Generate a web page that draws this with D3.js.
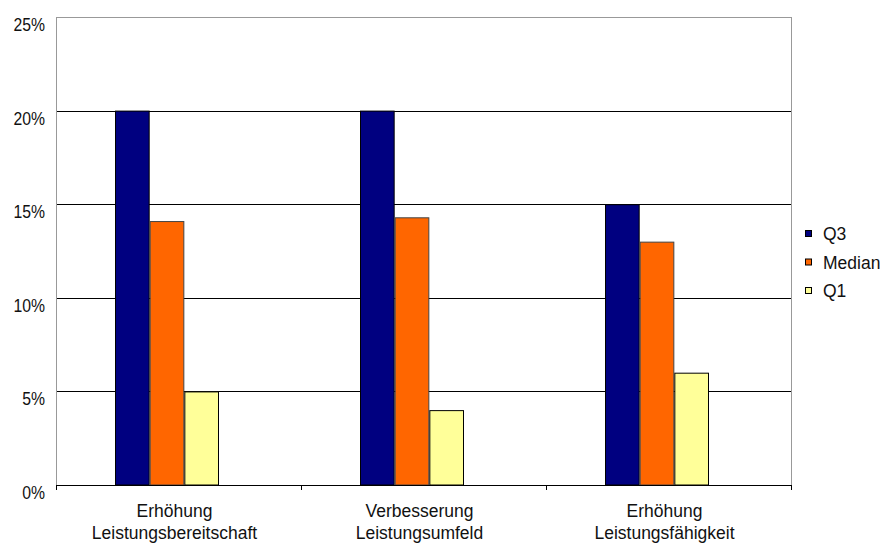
<!DOCTYPE html>
<html><head><meta charset="utf-8">
<script src="https://cdn.jsdelivr.net/npm/d3@7"></script>
<style>body{margin:0;background:#fff}text{font-family:"Liberation Sans",Arial,sans-serif}</style>
</head><body><svg id="c" width="896" height="549"></svg>
<script>
const categories = [["Erhöhung","Leistungsbereitschaft"],["Verbesserung","Leistungsumfeld"],["Erhöhung","Leistungsfähigkeit"]];
const seriesNames = ["Q3","Median","Q1"];
const q3 = [0.20, 0.20, 0.15];
const median = [0.141, 0.143, 0.130];
const q1 = [0.05, 0.04, 0.06];
const yTicks = [0, 0.05, 0.10, 0.15, 0.20, 0.25];
const colors = ["#000080","#FF6600","#FFFF99"];
const seriesData = [q3, median, q1];

const svg = d3.select("#c");
const L=56, R=791, T=17, B=485;
const y = d3.scaleLinear().domain([0,0.25]).range([B,T]);
const x0 = d3.scaleBand().domain(d3.range(categories.length)).range([L,R]).padding(0);
const x1 = d3.scaleBand().domain(d3.range(seriesNames.length)).range([59,163]).padding(0);

// gridlines
svg.append("g").selectAll("line").data(yTicks.filter(t=>t>0 && t<0.25)).join("line")
  .attr("x1",L).attr("x2",R).attr("y1",d=>Math.round(y(d))+0.5).attr("y2",d=>Math.round(y(d))+0.5)
  .attr("stroke","#000").attr("stroke-width",1);
// frame
svg.append("line").attr("x1",L).attr("x2",R).attr("y1",T+0.5).attr("y2",T+0.5).attr("stroke","#999");
svg.append("line").attr("x1",L+0.5).attr("x2",L+0.5).attr("y1",T).attr("y2",B).attr("stroke","#999");
svg.append("line").attr("x1",R+0.5).attr("x2",R+0.5).attr("y1",T).attr("y2",B).attr("stroke","#999");

// bars
seriesData.forEach((vals,si)=>{
  svg.append("g").selectAll("rect").data(vals).join("rect")
    .attr("x",(d,i)=>x0(i)+x1(si)+0.5)
    .attr("y",d=>y(d)+0.5)
    .attr("width",x1.bandwidth()-1)
    .attr("height",d=>B-y(d)-0.5)
    .attr("fill",colors[si])
    .attr("stroke",si===1?"#444":"#000").attr("stroke-width",1);
});

// x axis
svg.append("line").attr("x1",L).attr("x2",R+1).attr("y1",B+0.5).attr("y2",B+0.5).attr("stroke","#000");
svg.append("g").selectAll("line").data(d3.range(categories.length)).join("line")
  .attr("x1",i=>x0(i)+x0.bandwidth()+0.5).attr("x2",i=>x0(i)+x0.bandwidth()+0.5)
  .attr("y1",B).attr("y2",B+5).attr("stroke","#000");
svg.append("line").attr("x1",L+0.5).attr("x2",L+0.5).attr("y1",B).attr("y2",B+5).attr("stroke","#000");

// category labels
const cl = svg.append("g").selectAll("text").data(categories).join("text")
  .attr("text-anchor","middle").attr("font-size",17.5).attr("fill","#111");
cl.each(function(d,i){
  const t=d3.select(this); const cx=x0(i)+x0.bandwidth()/2-4;
  d.forEach((s,k)=>t.append("tspan").attr("x",cx).attr("y",517+k*22).text(s));
});

// y labels
svg.append("g").selectAll("text").data(yTicks).join("text")
  .attr("x",45).attr("y",d=>y(d)+14).attr("text-anchor","end").attr("font-size",17.5).attr("fill","#111")
  .attr("transform",d=>`translate(${45*0.1},0) scale(0.9,1)`)
  .text(d=>d3.format(".0%")(d));

// legend
const lg = svg.append("g").selectAll("g").data(seriesNames).join("g")
  .attr("transform",(d,i)=>`translate(805,${240+i*28.5})`);
lg.append("rect").attr("x",0.5).attr("y",-9.5).attr("width",6).attr("height",6)
  .attr("fill",(d,i)=>colors[i]).attr("stroke","#000");
lg.append("text").attr("x",18).attr("y",0).attr("font-size",17.5).attr("fill","#111").text(d=>d);
</script></body></html>
